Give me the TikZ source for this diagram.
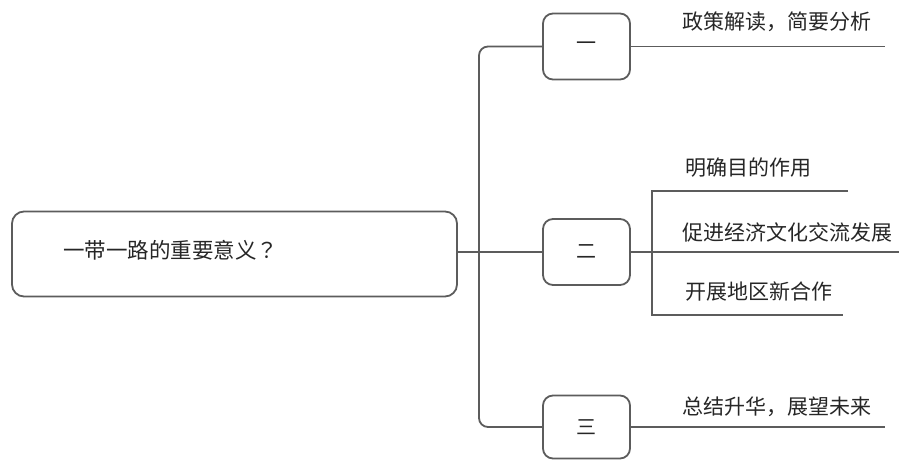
\documentclass[tikz,border=0pt]{standalone}
\usepackage{fontspec}
\newfontfamily\cjk{Noto Sans CJK SC}
\newfontfamily\cjkjp{Noto Sans CJK JP}
\definecolor{linegray}{HTML}{5C5C5C}
\definecolor{textgray}{HTML}{262626}
\begin{document}
\begin{tikzpicture}[x=1pt,y=-1pt,
  conn/.style={draw=linegray,line width=1.8pt},
  numbox/.style={draw=linegray,line width=1.8pt,rounded corners=10pt,minimum width=87pt,minimum height=66pt,inner sep=0pt,font=\cjk\fontsize{20}{24}\selectfont,text=textgray},
  lbl/.style={anchor=west,inner sep=0pt,font=\cjk\fontsize{21}{24}\selectfont,text=textgray}]
\useasboundingbox (0,0) rectangle (899,460);
\node[draw=linegray,line width=1.8pt,rounded corners=12pt,minimum width=445pt,minimum height=85pt,inner sep=0pt] (main) at (234.5,254) {};
\node[lbl,font=\cjk\fontsize{21.5}{24}\selectfont] (maint) at (63,250) {一带一路的重要意义{\cjkjp ？}};
\node[numbox] (b1) at (586.5,46.5) {一};
\node[numbox] (b2) at (586.5,252) {二};
\node[numbox,minimum height=63pt] (b3) at (586.5,427) {三};
\coordinate (tr) at (479,46.5);
\coordinate (br) at (479,427);
\coordinate (e1) at (885,46.5);
\coordinate (e2) at (899,252);
\coordinate (e3) at (885,427);
\coordinate (st) at (652,191);
\coordinate (sb) at (652,315);
\coordinate (et) at (848,191);
\coordinate (eb) at (843,315);
\draw[conn,rounded corners=9pt] (b1.west) -- (tr) -- (br) -- (b3.west);
\draw[conn] (main.east |- b2.west) -- (b2.west);
\draw[conn] (b1.east) -- (e1);
\draw[conn] (b3.east) -- (e3);
\draw[conn] (b2.east) -- (e2);
\draw[conn] (et) -- (st) -- (sb) -- (eb);
\node[lbl] (t1) at (682,22) {政策解读，简要分析};
\node[lbl] (t2a) at (685,168) {明确目的作用};
\node[lbl] (t2b) at (682,232) {促进经济文化交流发展};
\node[lbl] (t2c) at (685,292) {开展地区新合作};
\node[lbl] (t3) at (682,407) {总结升华，展望未来};
\end{tikzpicture}
\end{document}
